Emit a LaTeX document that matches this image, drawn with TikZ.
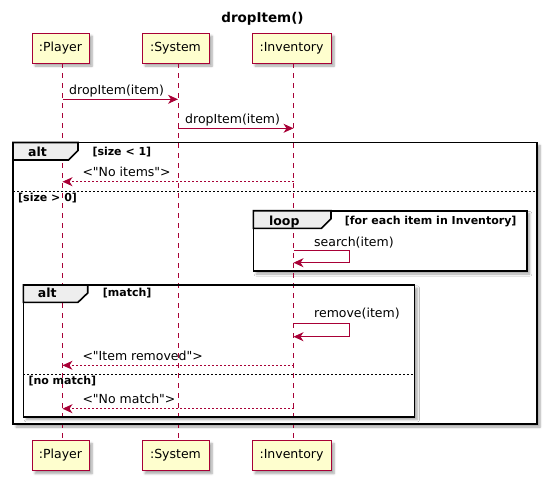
\documentclass[tikz,border=0pt]{standalone}
\usepackage{fontspec}
\setmainfont{DejaVu Sans}[Ligatures=TeXOff]
\usetikzlibrary{arrows.meta,shadows,shadows.blur}
\definecolor{pumlred}{HTML}{A80036}
\definecolor{pumlfill}{HTML}{FEFECE}
\definecolor{tabfill}{HTML}{EEEEEE}
\begin{document}
\begin{tikzpicture}[x=1pt,y=-1pt,
  shad/.style={blur shadow={shadow xshift=3pt,shadow yshift=-3pt,shadow opacity=35,shadow blur steps=6}},
  part/.style={draw=pumlred, fill=pumlfill, line width=1pt, minimum height=30pt, inner sep=0pt,
    font=\fontsize{12.5}{14}\selectfont, shad},
  lifeline/.style={draw=pumlred, line width=0.8pt, dash pattern=on 5pt off 5pt},
  msg/.style={draw=pumlred, line width=1pt, -{Stealth[length=10pt,width=9pt,inset=3pt]}},
  ret/.style={msg, dash pattern=on 2pt off 2pt},
  lbl/.style={inner sep=0pt, anchor=base west, font=\fontsize{12.5}{14}\selectfont},
  guard/.style={inner sep=0pt, anchor=base west, font=\fontsize{11}{13}\bfseries},
  tablbl/.style={inner sep=0pt, anchor=base, font=\fontsize{12.5}{14}\bfseries},
  frameline/.style={draw=black, line width=1.6pt},
  tab/.style={draw=black, line width=1.6pt, fill=tabfill, line join=miter},
  sep/.style={draw=black, line width=0.8pt, dash pattern=on 2pt off 2pt}
]
\useasboundingbox (0,0) rectangle (547,480);
% title
\node[inner sep=0pt, anchor=base, font=\fontsize{13.5}{16}\bfseries] (title) at (262.5,22) {dropItem()};
% participants
\node[part, minimum width=57pt] (pT) at (60.5,48) {:Player};
\node[part, minimum width=67pt] (sT) at (175.5,48) {:System};
\node[part, minimum width=79pt] (iT) at (291.5,48) {:Inventory};
\node[part, minimum width=57pt] (pB) at (60.5,455.5) {:Player};
\node[part, minimum width=67pt] (sB) at (175.5,455.5) {:System};
\node[part, minimum width=79pt] (iB) at (291.5,455.5) {:Inventory};
% frame backgrounds with shadows
\fill[white, shad] (13,142.5) rectangle (537,424);
\fill[white, shad] (253.3,210.7) rectangle (526.7,271);
\fill[white, shad] (23.3,285) rectangle (414.3,416.7);
% lifelines
\coordinate (Lp) at (62.5,63);
\coordinate (Ls) at (178,63);
\coordinate (Li) at (293.5,63);
\draw[lifeline] (Lp) -- (Lp |- pB.north);
\draw[lifeline] (Ls) -- (Ls |- sB.north);
\draw[lifeline] (Li) -- (Li |- iB.north);
% outer alt
\draw[frameline] (13,142.5) rectangle (537,424);
\draw[tab] (13,142.5) -- (78,142.5) -- (78,150.5) -- (68.5,160) -- (13,160) -- cycle;
\node[tablbl] (altA) at (37.5,156.5) {alt};
\node[guard] (g1) at (92.3,155) {[size < 1]};
\draw[sep] (13,191) -- (537,191);
\node[guard] (g2) at (18,201) {[size > 0]};
% loop
\draw[frameline] (253.3,210.7) rectangle (526.7,271);
\draw[tab] (253.3,210.7) -- (331,210.7) -- (331,218.7) -- (321.5,228.3) -- (253.3,228.3) -- cycle;
\node[tablbl] (loopL) at (284.3,225) {loop};
\node[guard, anchor=base east] (g3) at (516.7,224) {[for each item in Inventory]};
% inner alt
\draw[frameline] (23.3,285) rectangle (414.3,416.7);
\draw[tab] (23.3,285) -- (87.7,285) -- (87.7,293) -- (78,302.3) -- (23.3,302.3) -- cycle;
\node[tablbl] (altB) at (47.3,297.5) {alt};
\node[guard] (g4) at (102.7,296.7) {[match]};
\draw[sep] (23.3,374.3) -- (414.3,374.3);
\node[guard] (g5) at (28.3,384) {[no match]};
% messages
\draw[msg] (Lp |- 0,99.3) -- (Ls |- 0,99.3);
\node[lbl] (m1) at (69,94.3) {dropItem(item)};
\draw[msg] (Ls |- 0,128.3) -- (Li |- 0,128.3);
\node[lbl] (m2) at (185,123.3) {dropItem(item)};
\draw[ret] (Li |- 0,181.7) -- (Lp |- 0,181.7);
\node[lbl] (m3) at (82.3,176.7) {<"No items">};
\draw[msg] (Li |- 0,250.7) -- (349.3,250.7) -- (349.3,262.7) -- (Li |- 0,262.7);
\node[lbl] (m4) at (314,246) {search(item)};
\draw[msg] (Li |- 0,323.3) -- (349.3,323.3) -- (349.3,336.7) -- (Li |- 0,336.7);
\node[lbl] (m5) at (314,317.7) {remove(item)};
\draw[ret] (Li |- 0,365.3) -- (Lp |- 0,365.3);
\node[lbl] (m6) at (82.3,360.5) {<"Item removed">};
\draw[ret] (Li |- 0,408.7) -- (Lp |- 0,408.7);
\node[lbl] (m7) at (82.3,403.5) {<"No match">};
\end{tikzpicture}
\end{document}
